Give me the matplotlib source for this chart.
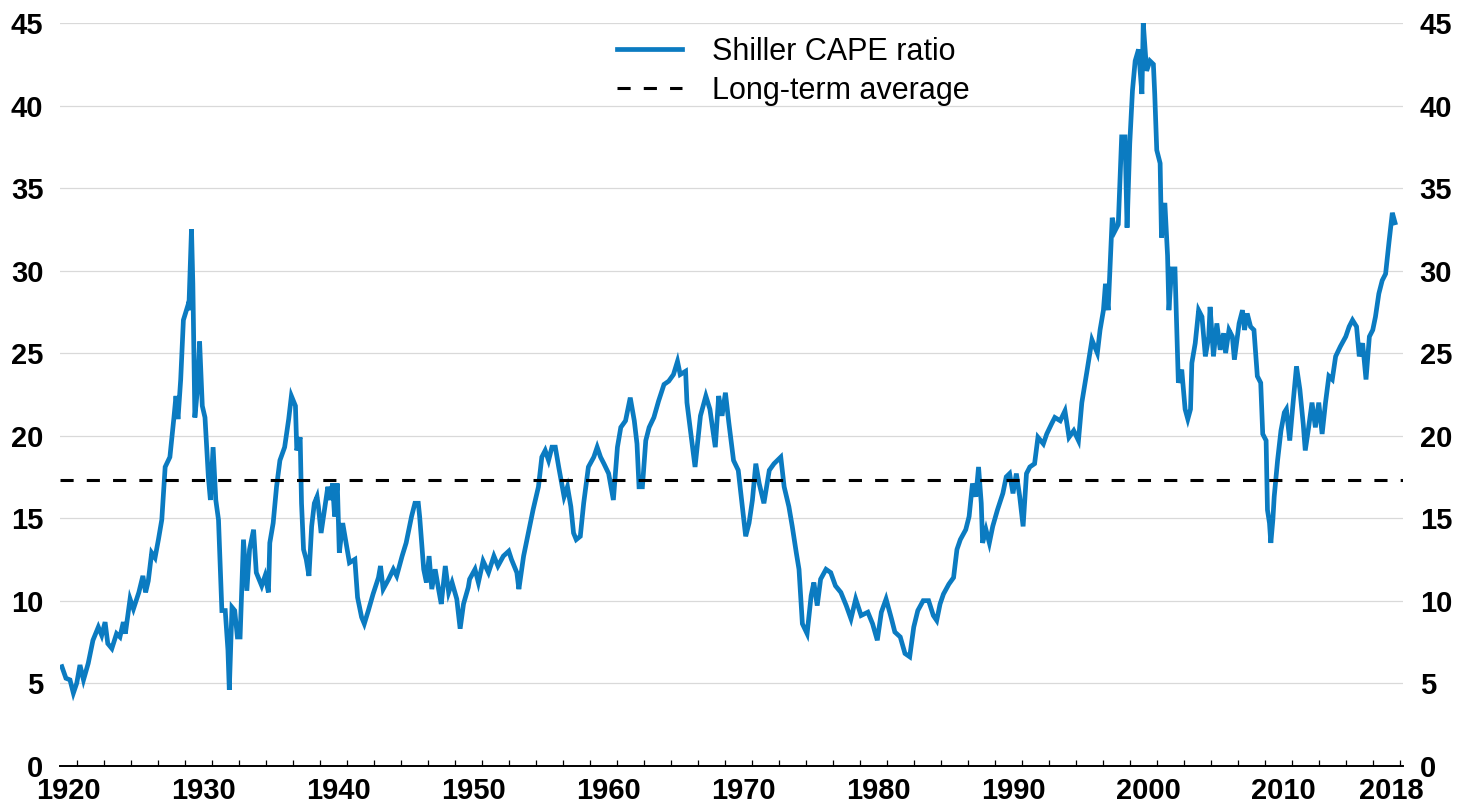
import numpy as np
import matplotlib
matplotlib.use('Agg')
import matplotlib.pyplot as plt

plt.rcParams['font.family'] = ['Liberation Sans', 'DejaVu Sans']

# Shiller CAPE ratio (decimal year, ratio)
years = [
    1919.9, 1920.2, 1920.5, 1920.75, 1921.0, 1921.24, 1921.5, 1921.85, 1922.2, 1922.6,
    1922.85, 1923.1, 1923.3, 1923.6, 1923.95, 1924.2, 1924.45, 1924.6, 1924.95, 1925.2,
    1925.6, 1925.9, 1926.1, 1926.3, 1926.55, 1926.8, 1927.05, 1927.3, 1927.55, 1927.9,
    1928.2, 1928.35, 1928.5, 1928.7, 1928.9, 1929.2, 1929.3, 1929.5, 1929.6, 1929.75,
    1929.95, 1930.1, 1930.3, 1930.5, 1930.75, 1930.9, 1931.1, 1931.3, 1931.5, 1931.75,
    1932.0, 1932.2, 1932.3, 1932.5, 1932.7, 1932.9, 1933.1, 1933.35, 1933.6, 1933.8,
    1934.1, 1934.3, 1934.7, 1934.95, 1935.2,
    1935.3, 1935.55, 1935.8, 1936.05, 1936.4, 1936.7, 1936.9, 1937.2, 1937.3, 1937.55,
    1937.65, 1937.8, 1938.0, 1938.2, 1938.4, 1938.6, 1938.8, 1938.9, 1939.1, 1939.35,
    1939.6, 1939.8, 1939.95, 1940.1, 1940.3, 1940.45, 1940.7, 1940.95, 1941.2, 1941.6,
    1941.8, 1942.1, 1942.3, 1942.6, 1942.95, 1943.35, 1943.5, 1943.7, 1944.1, 1944.45,
    1944.7, 1945.1, 1945.4, 1945.8, 1946.05, 1946.3, 1946.4, 1946.7, 1946.9, 1947.1,
    1947.3, 1947.55, 1947.8, 1948.0, 1948.3, 1948.55, 1948.8, 1949.15, 1949.4, 1949.65,
    1950.0,
    1950.1, 1950.5, 1950.75, 1951.1, 1951.5, 1951.9, 1952.2, 1952.6, 1953.0, 1953.2,
    1953.6, 1953.75, 1954.1, 1954.45, 1954.8, 1955.2, 1955.45, 1955.7, 1955.95, 1956.2,
    1956.45, 1956.7, 1957.1, 1957.35, 1957.6, 1957.8, 1958.0, 1958.3, 1958.55, 1958.9,
    1959.3, 1959.55, 1959.8, 1960.05, 1960.4, 1960.75, 1961.05, 1961.3, 1961.65, 1962.0,
    1962.3, 1962.5, 1962.65, 1962.9, 1963.15, 1963.4, 1963.75, 1964.1, 1964.5, 1964.85,
    1965.2, 1965.5, 1965.7, 1966.1,
    1966.2, 1966.8, 1967.2, 1967.6, 1967.9, 1968.3, 1968.55, 1968.8, 1969.05, 1969.3,
    1969.65, 1970.0, 1970.3, 1970.55, 1970.8, 1971.05, 1971.3, 1971.55, 1971.9, 1972.3,
    1972.65, 1972.9, 1973.15, 1973.4, 1973.75, 1974.0, 1974.3, 1974.5, 1974.75, 1975.1,
    1975.4, 1975.6, 1975.85, 1976.1, 1976.5, 1976.85, 1977.2, 1977.6, 1978.0, 1978.35,
    1978.7, 1979.1, 1979.6, 1979.95, 1980.3, 1980.6, 1980.95, 1981.35,
    1981.6, 1982.0, 1982.35, 1982.7, 1983.0, 1983.3, 1983.7, 1984.1, 1984.45, 1984.7,
    1984.95, 1985.2, 1985.6, 1985.95, 1986.2, 1986.45, 1986.85, 1987.1, 1987.35, 1987.6,
    1987.8, 1988.0, 1988.1, 1988.35, 1988.6, 1988.85, 1989.2, 1989.6, 1989.85, 1990.1,
    1990.35, 1990.6, 1990.85, 1991.1, 1991.35, 1991.6, 1991.95, 1992.2, 1992.6, 1992.85,
    1993.2, 1993.45, 1993.85, 1994.2, 1994.5, 1994.85, 1995.2,
    1995.45, 1995.85, 1996.2, 1996.6, 1996.8, 1997.05, 1997.2, 1997.4, 1997.7, 1997.9,
    1998.15, 1998.4, 1998.65, 1998.8, 1999.0, 1999.2, 1999.4, 1999.65, 1999.9, 2000.0,
    2000.25, 2000.5, 2000.75, 2000.85, 2001.0, 2001.25, 2001.35, 2001.6, 2001.8, 2001.9,
    2002.1, 2002.35, 2002.6, 2002.85, 2003.1, 2003.3, 2003.5, 2003.6, 2003.85, 2004.1,
    2004.35, 2004.6, 2004.85,
    2004.95, 2005.2, 2005.45, 2005.7, 2005.95, 2006.1, 2006.35, 2006.6, 2006.75, 2007.1,
    2007.35, 2007.5, 2007.7, 2007.95, 2008.2, 2008.45, 2008.7, 2008.85, 2009.1, 2009.2,
    2009.35, 2009.45, 2009.6, 2009.7, 2009.95, 2010.2, 2010.45, 2010.6, 2010.85, 2011.1,
    2011.35, 2011.6, 2011.85, 2012.0, 2012.25, 2012.5, 2012.75, 2013.0, 2013.25, 2013.5,
    2013.75, 2014.0, 2014.25, 2014.6, 2015.0, 2015.25, 2015.5, 2015.8, 2016.0, 2016.25,
    2016.5, 2016.75, 2017.0, 2017.2, 2017.45, 2017.7, 2017.95, 2018.2, 2018.45, 2018.65,
]
cape = [
    6.0, 5.3, 5.2, 4.4, 5.0, 6.1, 5.2, 6.2, 7.6, 8.4,
    7.9, 8.7, 7.4, 7.1, 8.0, 7.8, 8.7, 8.0, 10.1, 9.5,
    10.5, 11.5, 10.5, 11.2, 12.9, 12.6, 13.7, 14.9, 18.1, 18.7,
    21.1, 22.4, 21.0, 23.4, 27.0, 27.8, 27.6, 32.5, 29.2, 21.1,
    22.9, 25.7, 21.8, 21.1, 17.5, 16.1, 19.3, 16.1, 14.9, 9.4,
    9.4, 7.0, 4.6, 9.6, 9.4, 7.8, 7.8, 13.7, 10.6, 13.1,
    14.3, 11.7, 10.9, 11.5, 10.5,
    13.5, 14.7, 16.9, 18.5, 19.3, 21.0, 22.4, 21.8, 19.1, 19.9,
    15.9, 13.1, 12.5, 11.5, 14.5, 15.9, 16.3, 15.7, 14.1, 15.5,
    16.9, 16.1, 17.1, 15.1, 17.1, 12.9, 14.7, 13.5, 12.3, 12.5,
    10.2, 9.0, 8.6, 9.4, 10.4, 11.4, 12.1, 10.7, 11.3, 11.9,
    11.5, 12.7, 13.5, 15.1, 15.9, 15.9, 15.1, 11.9, 11.1, 12.7,
    10.7, 11.9, 10.7, 9.8, 12.1, 10.5, 11.1, 10.1, 8.3, 9.8,
    10.8,
    11.3, 11.9, 11.1, 12.4, 11.7, 12.7, 12.1, 12.7, 13.0, 12.5,
    11.7, 10.7, 12.7, 14.1, 15.5, 16.9, 18.7, 19.1, 18.5, 19.3,
    19.3, 18.1, 16.3, 16.9, 15.7, 14.1, 13.7, 13.9, 15.9, 18.1,
    18.7, 19.3, 18.7, 18.3, 17.7, 16.1, 19.3, 20.5, 20.9, 22.3,
    20.9, 19.5, 16.9, 16.9, 19.7, 20.5, 21.1, 22.1, 23.1, 23.3,
    23.7, 24.5, 23.7, 23.9,
    22.0, 18.1, 21.2, 22.4, 21.6, 19.3, 22.4, 21.2, 22.6, 20.8,
    18.5, 17.9, 15.7, 13.9, 14.7, 16.1, 18.3, 17.1, 15.9, 17.9,
    18.3, 18.5, 18.7, 16.9, 15.7, 14.5, 12.9, 11.9, 8.6, 8.0,
    10.3, 11.1, 9.7, 11.3, 11.9, 11.7, 10.9, 10.5, 9.7, 8.9,
    10.1, 9.1, 9.3, 8.6, 7.6, 9.3, 10.1, 8.9,
    8.1, 7.8, 6.8, 6.6, 8.4, 9.4, 10.0, 10.0, 9.1, 8.8,
    9.8, 10.4, 11.0, 11.4, 13.1, 13.7, 14.3, 15.1, 17.1, 16.3,
    18.1, 15.9, 13.5, 14.3, 13.5, 14.5, 15.5, 16.5, 17.5, 17.7,
    16.5, 17.7, 16.3, 14.5, 17.7, 18.1, 18.3, 19.9, 19.5, 20.1,
    20.7, 21.1, 20.9, 21.5, 19.9, 20.3, 19.7,
    22.0, 24.0, 25.8, 25.0, 26.4, 27.6, 29.2, 27.6, 33.2, 32.4,
    32.8, 38.1, 38.1, 32.6, 37.7, 40.9, 42.7, 43.4, 40.7, 45.0,
    42.1, 42.7, 42.5, 40.7, 37.3, 36.5, 32.0, 34.1, 30.9, 27.6,
    30.1, 30.1, 23.2, 24.0, 21.6, 21.0, 21.6, 24.4, 25.6, 27.6,
    27.2, 24.8, 26.0,
    27.8, 24.8, 26.8, 25.2, 26.2, 25.0, 26.4, 26.0, 24.6, 26.8,
    27.6, 26.4, 27.4, 26.6, 26.4, 23.6, 23.2, 20.1, 19.7, 15.5,
    14.7, 13.5, 14.9, 16.3, 18.5, 20.3, 21.4, 21.6, 19.7, 22.0,
    24.2, 22.8, 20.7, 19.1, 20.5, 22.0, 20.5, 22.0, 20.1, 22.0,
    23.6, 23.4, 24.8, 25.4, 26.0, 26.6, 27.0, 26.6, 24.8, 25.6,
    23.4, 26.0, 26.4, 27.2, 28.6, 29.4, 29.8, 31.7, 33.5, 32.9,
]
long_term_avg = 17.3

label_years = [1920, 1930, 1940, 1950, 1960, 1970, 1980, 1990, 2000, 2010, 2018]
y_ticks = [0, 5, 10, 15, 20, 25, 30, 35, 40, 45]

fig = plt.figure(figsize=(14.62, 8.02), dpi=100)
ax = fig.add_axes([60 / 1462, 1 - 765.7 / 802, 1343 / 1462, 742.7 / 802])

ax.plot(years, cape, color='#0B7BC1', lw=3.4, solid_joinstyle='miter',
        label='Shiller CAPE ratio', zorder=3)
ax.axhline(long_term_avg, color='black', lw=2.2, linestyle=(0, (4.3, 4.3)),
           label='Long-term average', zorder=4)

ax.set_xlim(1919.76, 2019.24)
ax.set_ylim(0, 45)

# year labels without tick marks, short ticks every two years
ax.set_xticks(np.array(label_years) + 0.4)
ax.set_xticklabels([str(y) for y in label_years])
ax.set_xticks(np.arange(1921, 2020, 2), minor=True)
ax.tick_params(axis='x', which='major', length=0, pad=8, labelsize=21)
ax.tick_params(axis='x', which='minor', direction='in', length=4.5, width=0.9, color='black')

ax.set_yticks(y_ticks)
ax.tick_params(axis='y', length=0, pad=12, labelsize=21, labelleft=True, labelright=True)
for lbl in ax.get_xticklabels() + ax.get_yticklabels():
    lbl.set_fontweight('bold')

ax.grid(axis='y', color='#d9d9d9', lw=0.9, zorder=0)
ax.set_axisbelow(True)
for side in ['top', 'left', 'right']:
    ax.spines[side].set_visible(False)
ax.spines['bottom'].set_linewidth(1.4)
ax.spines['bottom'].set_zorder(5)

ax.legend(loc='upper left', bbox_to_anchor=(0.415, 0.981), frameon=False,
          fontsize=22, handlelength=2.1, handletextpad=1.0, labelspacing=0.28,
          borderpad=0, borderaxespad=0)

fig.savefig('out.png', dpi=100)
